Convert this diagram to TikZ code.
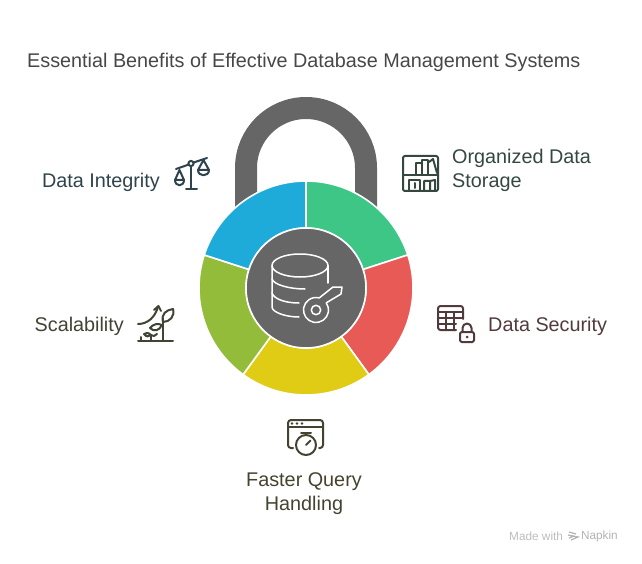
\documentclass[tikz,border=0pt]{standalone}
\usepackage{fontspec}
\setmainfont{Liberation Sans}
\usepackage{xcolor}
\usetikzlibrary{calc,positioning}
\definecolor{lockgray}{HTML}{666666}
\definecolor{segteal}{HTML}{3EC687}
\definecolor{segred}{HTML}{E85A55}
\definecolor{segyellow}{HTML}{E0CC15}
\definecolor{seggreen}{HTML}{92BC39}
\definecolor{segblue}{HTML}{1EABDA}
\definecolor{inkblue}{HTML}{2F434C}
\definecolor{inkteal}{HTML}{35483F}
\definecolor{inkred}{HTML}{523A3C}
\definecolor{inkyellow}{HTML}{45432F}
\definecolor{inkgreen}{HTML}{3F4433}

\begin{document}
\begin{tikzpicture}[x=1pt,y=-1pt,
    seg/.style={draw=white,line width=1.6pt,line join=miter},
    icon/.style={line width=2pt,line join=round,line cap=round},
    label/.style={font=\fontsize{19.8}{24}\selectfont,inner sep=0pt,align=#1},
    label/.default=left]
  \useasboundingbox (0,0) rectangle (642,564);
  \coordinate (C) at (306,288);
  \node (title) [label,anchor=west,text=black!72] at (27,62) {Essential Benefits of Effective Database Management Systems};
  % shackle, the ring covers its ends
  \draw[lockgray,line width=22pt] (246,230) -- (246,168) arc[start angle=180,end angle=360,radius=60] -- (366,230);
  % ring of five segments
  \foreach \a/\b/\c in {-90/-18/segteal,-18/54/segred,54/126/segyellow,126/198/seggreen,198/270/segblue}
    \draw[seg,fill=\c] ([shift={(\a:60)}]C) arc[start angle=\a,end angle=\b,radius=60]
      -- ([shift={(\b:107)}]C) arc[start angle=\b,end angle=\a,radius=107] -- cycle;
  \node (hub) [circle,fill=lockgray,draw=white,line width=1.6pt,minimum size=120pt,inner sep=0pt] at (C) {};
  % database and key
  \begin{scope}[white,line width=1.5pt,line cap=round,line join=round]
    \draw (300,265.5) ellipse[x radius=28,y radius=11.5];
    \draw (328,265.5) -- (328,283);
    \draw (272,265.5) -- (272,307) .. controls (272,312) and (285,317) .. (299,317);
    \draw (272,279) .. controls (274,285) and (290,289) .. (305,289);
    \draw (272,293) .. controls (274,299) and (285,303) .. (299,303);
    \draw (333,287) -- (342,287) -- (341,294) -- ([shift={(-35:12.5)}]316,310) arc[start angle=-35,end angle=285,radius=12.5] -- cycle;
    \draw (316,310) circle[radius=4.7];
  \end{scope}
  % labels
  \node (integrity) [label,anchor=east,text=inkblue] at (160,182) {Data Integrity};
  \node (storage) [label,anchor=west,text=inkteal] at (452,170) {Organized Data\\Storage};
  \node (security) [label,anchor=west,text=inkred] at (488,326) {Data Security};
  \node (query) [label=center,text=inkyellow] at (304,494) {Faster Query\\Handling};
  \node (scale) [label,anchor=east,text=inkgreen] at (124,326) {Scalability};
  % balance
  \begin{scope}[icon,inkblue]
    \draw (176,169) -- (188.6,164.6) (193.4,162.6) -- (207,158);
    \draw (191,163.5) circle[radius=2.6];
    \draw (191,166) -- (191,189) (186,189) -- (197,189);
    \draw (175,180) -- (179.5,170) -- (184,180) -- cycle;
    \draw (175,180) .. controls (175,187) and (184,187) .. (184,180);
    \draw (198,170) -- (203.5,160) -- (209,170) -- cycle;
    \draw (198,170) .. controls (198,177) and (209,177) .. (209,170);
  \end{scope}
  % bookshelf
  \begin{scope}[icon,inkteal]
    \draw[rounded corners=2pt] (403,156) rectangle (438,191);
    \draw (403,175) -- (438,175);
    \draw (416,175) -- (416,163) -- (422,163) -- (422,175) (422,163) -- (422,160) -- (428,160) -- (428,175);
    \draw (429,162) -- (433,159) -- (437,173);
    \draw (409,191) -- (409,180) -- (420,180) -- (420,191) (414.5,183) -- (414.5,188);
    \draw (424,191) -- (424,181) -- (430,181) -- (430,191) (430,181) -- (435,180) -- (435,191);
  \end{scope}
  % table with padlock
  \begin{scope}[icon,inkred]
    \draw[rounded corners=2.5pt] (456,330) -- (438,330) -- (438,306) -- (463,306) -- (463,319);
    \draw (438,312) -- (463,312) (438,318) -- (463,318) (438,324) -- (456,324);
    \draw (446,312) -- (446,330) (454,312) -- (454,330);
    \draw[rounded corners=1.5pt] (460,332) rectangle (474,342);
    \draw (462.5,332) -- (462.5,328) arc[start angle=180,end angle=360,radius=4.5] -- (471.5,332);
    \fill (467,337) circle[radius=1.5];
  \end{scope}
  % window with stopwatch
  \begin{scope}[icon,inkyellow]
    \draw[rounded corners=3pt] (293,448) -- (288,448) -- (288,420) -- (323,420) -- (323,448) -- (319,448);
    \draw (288,427) -- (323,427);
    \foreach \x in {292,297,302} \fill (\x,423.5) circle[radius=1.4];
    \draw (306,445) circle[radius=10];
    \draw (306,435) -- (306,433) (301,433) -- (311,433);
    \draw (306,445) -- (310.5,440.5);
  \end{scope}
  % plant and arrow
  \begin{scope}[icon,inkgreen]
    \draw (138,341) -- (173,341);
    \draw (163,341) -- (163,318);
    \draw (163,322) .. controls (161,314) and (166,310) .. (173,309) .. controls (175,316) and (170,322) .. (163,322) -- cycle;
    \draw (162,325) .. controls (158,323) and (153,324) .. (150,328) .. controls (154,332) and (159,331) .. (162,325) -- cycle;
    \draw (151,341) -- (151,335);
    \draw (151,335) .. controls (148,332) and (146,333) .. (144,334) .. controls (146,337) and (149,337) .. (151,335)
      .. controls (153,337) and (155,336) .. (157,334);
    \draw (141,341) -- (141,337);
    \draw (138,324) .. controls (148,324) and (155,317) .. (158,307);
    \draw (154,310) -- (158.5,306) -- (161,311);
  \end{scope}
  % watermark
  \node (made) [anchor=west,inner sep=0pt,text=black!26,font=\fontsize{11.8}{14}\selectfont] at (509,536) {Made with};
  \node (napkin) [anchor=east,inner sep=0pt,text=black!30,font=\fontsize{11.8}{14}\selectfont] at (618,536) {Napkin};
  \draw[black!30,line width=1.2pt] (569,532) -- (576,534) (568,535) -- (578,537) -- (571,540) (569,538) -- (574,536);
\end{tikzpicture}
\end{document}
